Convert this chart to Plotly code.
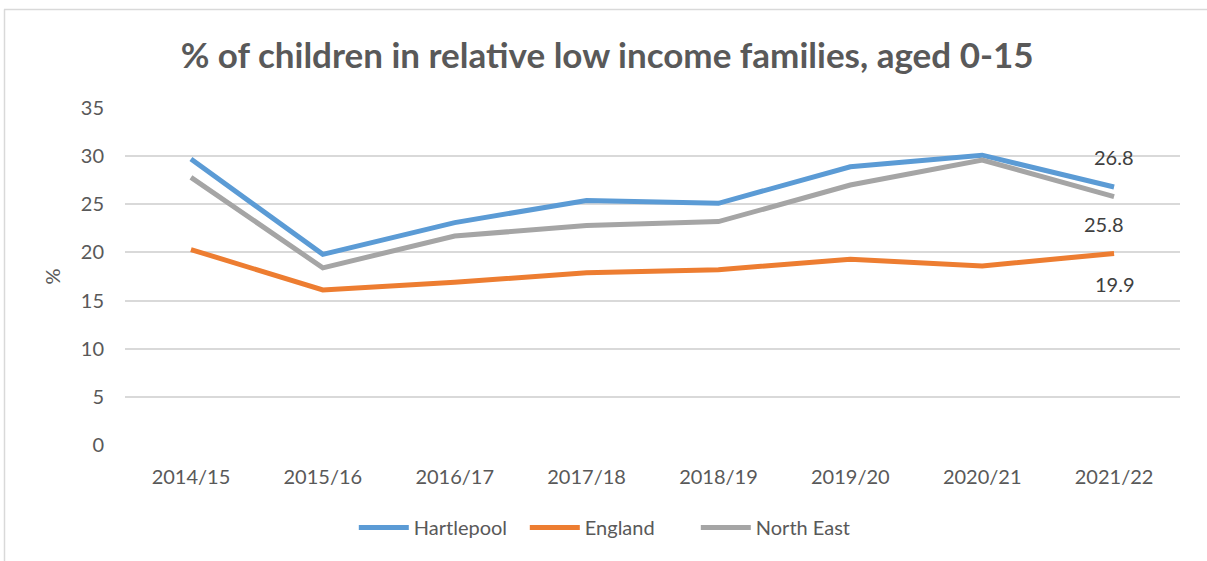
import plotly.graph_objects as go

years = ["2014/15", "2015/16", "2016/17", "2017/18", "2018/19", "2019/20", "2020/21", "2021/22"]
hartlepool = [29.7, 19.8, 23.1, 25.4, 25.1, 28.9, 30.1, 26.8]
england = [20.3, 16.1, 16.9, 17.9, 18.2, 19.3, 18.6, 19.9]
north_east = [27.8, 18.4, 21.7, 22.8, 23.2, 27.0, 29.6, 25.8]
y_ticks = [0, 5, 10, 15, 20, 25, 30, 35]

BLUE = "#5B9BD5"
ORANGE = "#ED7D31"
GREY = "#A5A5A5"
TEXT = "#595959"
FONT = "Lato, 'Open Sans', sans-serif"

fig = go.Figure()
for name, vals, col in [("Hartlepool", hartlepool, BLUE),
                        ("England", england, ORANGE),
                        ("North East", north_east, GREY)]:
    fig.add_trace(go.Scatter(x=years, y=vals, name=name, mode="lines",
                             line=dict(color=col, width=5)))

# end-of-series value labels
labels = [(hartlepool, 30), (north_east, -27), (england, -31)]
xshifts = [0, -10, 1]
for (vals, ys), xs in zip(labels, xshifts):
    fig.add_annotation(x=years[-1], y=vals[-1], text=f"{vals[-1]:.1f}",
                       showarrow=False, yshift=ys, xshift=xs,
                       font=dict(family=FONT, size=20, color="#404040"))

# chart-area border (top and left edges)
fig.add_shape(type="line", xref="paper", yref="paper",
              x0=(4 - 125) / 1055, x1=(1210 - 125) / 1055,
              y0=(445 - 9.5) / 337, y1=(445 - 9.5) / 337,
              line=dict(color="#D9D9D9", width=1.5))
fig.add_shape(type="line", xref="paper", yref="paper",
              x0=(4.5 - 125) / 1055, x1=(4.5 - 125) / 1055,
              y0=(445 - 9.5) / 337, y1=(445 - 570) / 337,
              line=dict(color="#D9D9D9", width=1.5))

fig.update_layout(
    width=1207, height=561,
    margin=dict(l=125, r=27, t=108, b=116, autoexpand=False),
    paper_bgcolor="white", plot_bgcolor="white",
    title=dict(text="<b>% of children in relative low income families, aged 0-15</b>",
               x=0.503, xref="container", xanchor="center", y=0.9, yanchor="middle",
               font=dict(family=FONT, size=35, color=TEXT)),
    showlegend=True,
    legend=dict(orientation="h", x=0.46, xanchor="center", xref="paper",
                y=-0.245, yanchor="middle",
                font=dict(family=FONT, size=20, color=TEXT),
                itemwidth=50, entrywidth=106, entrywidthmode="pixels"),
    xaxis=dict(type="category", range=[-0.5, 7.5], showgrid=False,
               showline=False, ticks="", ticklen=0, ticklabelstandoff=18,
               tickangle=0,
               tickfont=dict(family=FONT, size=20, color=TEXT)),
    yaxis=dict(range=[0, 35], tickvals=y_ticks, showgrid=True,
               gridcolor="#D9D9D9", gridwidth=1.5, zeroline=False,
               showline=False, ticks="", ticklabelstandoff=20,
               tickfont=dict(family=FONT, size=20, color=TEXT),
               title=dict(text="%", font=dict(family=FONT, size=20, color=TEXT),
                          standoff=14)),
)

fig.write_html("out.html")
